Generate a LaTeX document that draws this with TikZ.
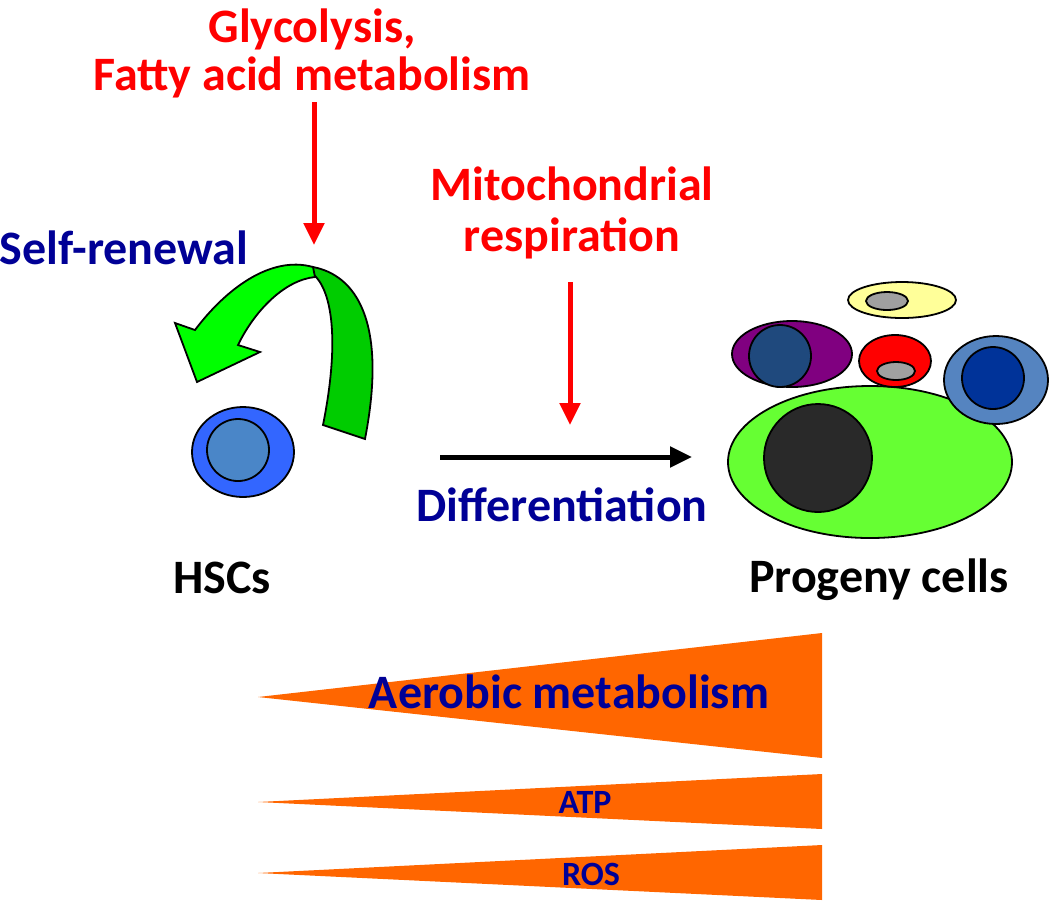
\documentclass[tikz,border=0pt]{standalone}
\usepackage{fontspec}
\setmainfont{Carlito}
\usetikzlibrary{arrows.meta}
\definecolor{txtred}{RGB}{255,0,0}
\definecolor{txtblue}{RGB}{0,0,150}
\definecolor{hscout}{RGB}{51,102,255}
\definecolor{hscin}{RGB}{74,134,200}
\definecolor{lgreen}{RGB}{0,255,0}
\definecolor{dgreen}{RGB}{0,204,0}
\definecolor{biggreen}{RGB}{102,255,51}
\definecolor{nucblack}{RGB}{41,41,41}
\definecolor{pale}{RGB}{255,255,153}
\definecolor{grey}{RGB}{160,160,160}
\definecolor{purp}{RGB}{128,0,128}
\definecolor{navyin}{RGB}{31,73,125}
\definecolor{steel}{RGB}{85,132,192}
\definecolor{deepblue}{RGB}{0,51,153}
\definecolor{orng}{RGB}{255,102,0}
\tikzset{
  lbl/.style={font=\fontsize{24}{24}\selectfont\bfseries, align=center},
  small/.style={font=\fontsize{17}{18}\selectfont\bfseries, text=txtblue},
  redarrow/.style={draw=txtred, line width=2.5pt, -{Triangle[length=11pt, width=10pt]}},
  cell/.style={draw=black, line width=0.9pt}
}
\begin{document}
\begin{tikzpicture}[x=0.5pt, y=-0.5pt]
    \useasboundingbox (0, 0) rectangle (1050, 902);
    % labels
    \node[lbl, text=txtred] (gly) at (312, 53) {Glycolysis,\\Fatty acid metabolism};
    \node[lbl, text=txtblue] (self) at (124, 248) {Self-renewal};
    \node[lbl, text=txtred] (mito) at (572, 213) {Mitochondrial\\[1.5pt]respiration};
    \node[lbl, text=txtblue] (diff) at (562, 505) {Differentiation};
    \node[lbl] (hsc) at (222, 578) {HSCs};
    \node[lbl] (prog) at (879, 580) {Progeny cells};
    % arrows
    \coordinate (g1) at (314, 102);
    \coordinate (g2) at (314, 245);
    \coordinate (m1) at (570, 282);
    \coordinate (m2) at (570, 425);
    \coordinate (d1) at (440, 457);
    \coordinate (d2) at (692, 457);
    \draw[redarrow] (g1) -- (g2);
    \draw[redarrow] (m1) -- (m2);
    \draw[line width=2.5pt, -{Triangle[length=11pt, width=10pt]}] (d1) -- (d2);
    % self-renewal arrow
    \draw[cell, fill=dgreen] (313, 267) .. controls (355, 275) and (388, 320) .. (365, 439)
        -- (323, 425) .. controls (340, 340) and (332, 290) .. (313, 274) -- cycle;
    \draw[cell, fill=lgreen] (313, 267) .. controls (270, 255) and (225, 290) .. (195, 330)
        -- (175, 323) -- (197, 382) -- (260, 352) -- (238, 345)
        .. controls (255, 310) and (285, 280) .. (315, 277) -- cycle;
    % HSC
    \draw[cell, fill=hscout] (243, 452) ellipse (51 and 45);
    \draw[cell, fill=hscin] (238, 450) circle (31);
    % progeny cells
    \draw[cell, fill=biggreen] (870, 462) ellipse (142 and 76);
    \draw[cell, fill=nucblack] (818, 458) circle (54);
    \draw[cell, fill=pale] (902, 300) ellipse (54 and 18);
    \draw[cell, fill=grey] (887, 301) ellipse (21 and 9);
    \draw[cell, fill=purp] (792, 354) ellipse (60 and 33);
    \draw[cell, fill=navyin] (780, 356) circle (31);
    \draw[cell, fill=txtred] (895, 361) ellipse (36 and 26);
    \draw[cell, fill=grey] (896, 371) ellipse (19 and 9);
    \draw[cell, fill=steel] (996, 380) ellipse (52 and 44);
    \draw[cell, fill=deepblue] (993, 378) circle (31);
    % wedges
    \fill[orng] (258, 697) -- (822, 633) -- (822, 758) -- cycle;
    \fill[orng] (258, 802) -- (822, 774) -- (822, 829) -- cycle;
    \fill[orng] (258, 873) -- (822, 845) -- (822, 900) -- cycle;
    \node[lbl, text=txtblue] (aero) at (569, 692) {Aerobic metabolism};
    \node[small] (atp) at (585, 802) {ATP};
    \node[small] (ros) at (591, 874) {ROS};
\end{tikzpicture}
\end{document}
